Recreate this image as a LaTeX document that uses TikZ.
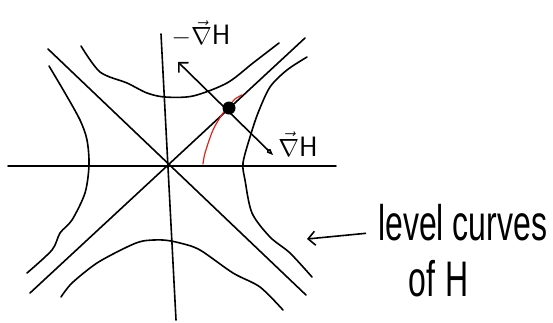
\documentclass[tikz,border=0pt]{standalone}
\usepackage{graphicx}
\usepackage{fontspec}
\setmainfont{Liberation Sans}
\usetikzlibrary{arrows.meta,positioning}
\definecolor{flowred}{RGB}{225,35,25}

\begin{document}
\begin{tikzpicture}[
    x=1pt, y=-1pt,
    axis/.style={line width=1.6pt, line cap=round},
    level/.style={line width=1.6pt, line cap=round, line join=round},
    flow/.style={flowred, line width=1.2pt, line cap=round},
    dot/.style={circle, fill=black, inner sep=0pt, minimum size=13pt},
    lbl/.style={font=\fontsize{28}{30}\selectfont, inner sep=0pt},
    hand/.style={font=\fontsize{50}{56}\selectfont, inner sep=0pt},
    barb/.style={-{Straight Barb[length=7pt, width=14pt]}, line width=1.6pt}
]
\useasboundingbox (0,0) rectangle (553,322);

% axes and the two separatrices
\draw[axis] (8,166) -- (336,166);
\draw[axis] (161,34) -- (176,320);
\draw[axis] (30,293) -- (305,38);
\draw[axis] (48,49) -- (306,295);

% level curves
\draw[level] plot[smooth] coordinates {(81,46) (100,72) (127,83) (147,93) (165,97) (193,96) (227,83) (253,63) (279,43)};
\draw[level] plot[smooth] coordinates {(49,66) (65,93) (80,120) (87,140) (89,165) (85,193) (72,220) (60,233) (52,250) (27,273)};
\draw[level] plot[smooth] coordinates {(307,57) (287,70) (270,87) (258,113) (250,137) (243,163) (245,180) (252,213) (270,237) (290,253) (312,277)};
\draw[level] plot[smooth] coordinates {(61,297) (72,283) (97,263) (127,247) (143,241) (163,240) (180,243) (200,250) (233,273) (260,287) (283,310)};

% trajectory
\draw[flow] plot[smooth] coordinates {(203,164) (205,153) (213,130) (223,113) (229,106) (235,99) (242,95)};

% point and gradient
\node[dot] (pt) at (229,108) {};
\coordinate (gtop) at (178,62);
\coordinate (gbot) at (273,155);
\draw[{Kite[open, length=8pt, width=5pt]}-{Straight Barb[length=7pt, width=14pt]}, line width=1.6pt] (gbot) -- (gtop);
\node[lbl] (mgrad) at (201,34) {$-\vec{\nabla}\mathsf{H}$};
\node[lbl] (grad) at (298,144) {$\vec{\nabla}\mathsf{H}$};

% legend
\node[hand, anchor=base west] (lvl) at (378,240) {\scalebox{0.64}[1]{level curves}};
\node[hand, anchor=base west] (ofh) at (408,296) {\scalebox{0.64}[1]{of\,\,H}};
\coordinate (lvltip) at (307,239);
\draw[barb, shorten <=12pt] ([yshift=-10pt]lvl.west) -- (lvltip);
\end{tikzpicture}
\end{document}
